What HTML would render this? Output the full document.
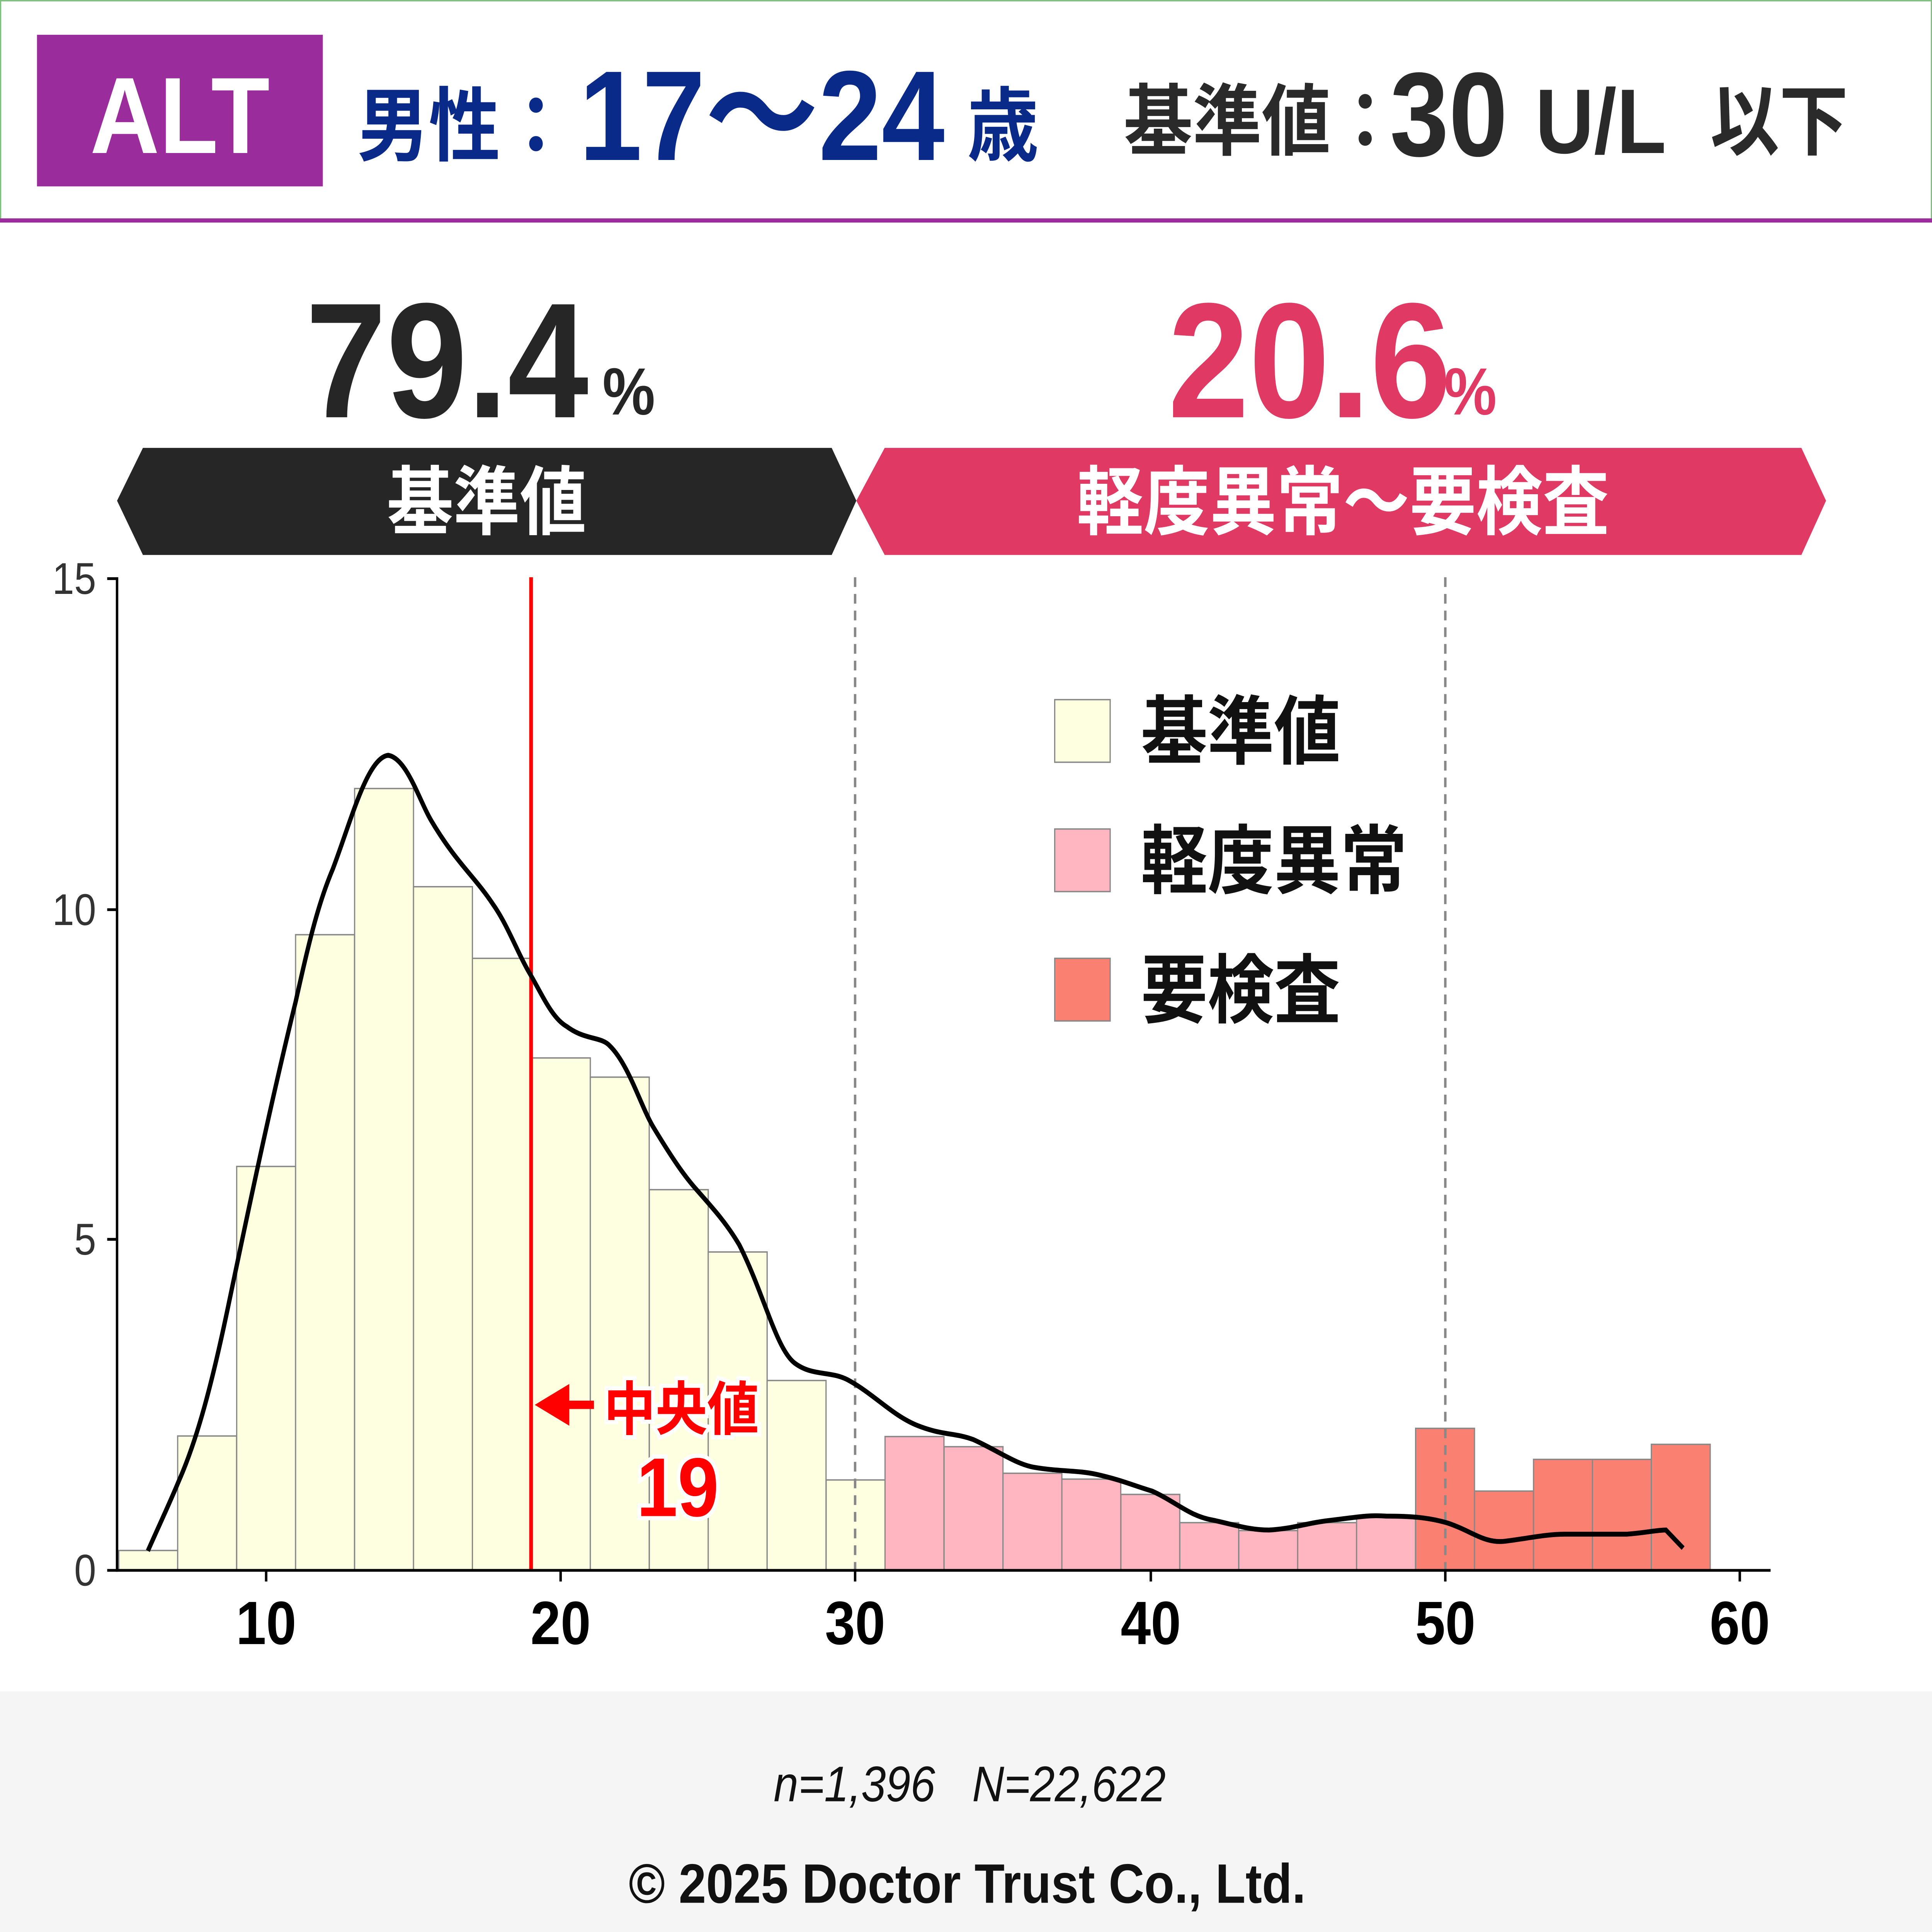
<!DOCTYPE html>
<html><head><meta charset="utf-8"><style>
html,body{margin:0;padding:0;background:#fff;width:100%;height:100%;overflow:hidden;}
svg{display:block;width:100vw;height:100vh;}
text{font-family:"Liberation Sans","Noto Sans CJK JP",sans-serif;}
</style></head><body>
<svg viewBox="0 0 1568 1389" preserveAspectRatio="none" xmlns="http://www.w3.org/2000/svg">
<rect x="0" y="0" width="1568" height="1389" fill="#fff"/>
<rect x="0.5" y="0.5" width="1567" height="159" fill="#fff" stroke="#7fbf7f" stroke-width="1"/>
<rect x="0" y="157" width="1568" height="3" fill="#9b2c9b"/>
<rect x="30" y="25" width="232" height="109" fill="#9b2c9b"/>
<text x="146" y="110" font-size="78" font-weight="bold" fill="#fff" text-anchor="middle">ALT</text>
<text x="290" y="111" font-size="58" font-weight="bold" fill="#0a2a8a">男性：</text>
<text x="470" y="115" font-size="92" font-weight="bold" fill="#0a2a8a">17～24</text>
<text x="785" y="111" font-size="58" font-weight="bold" fill="#0a2a8a">歳</text>
<text x="912" y="107" font-size="56" font-weight="bold" fill="#2a2a2a">基準値：</text>
<text x="1128" y="112" font-size="86" font-weight="bold" fill="#2a2a2a">30</text>
<text x="1246" y="110" font-size="66" font-weight="bold" fill="#2a2a2a">U/L</text>
<text x="1388" y="107" font-size="56" font-weight="bold" fill="#2a2a2a">以下</text>
<text x="248" y="300" font-size="118" font-weight="bold" fill="#262626">79.4</text>
<text x="489" y="298" font-size="48" font-weight="bold" fill="#262626">%</text>
<text x="948" y="300" font-size="118" font-weight="bold" fill="#e03a64">20.6</text>
<text x="1172" y="298" font-size="48" font-weight="bold" fill="#e03a64">%</text>
<polygon points="95,360 116,322 675,322 695,360 675,399 116,399" fill="#262626"/>
<text x="395" y="380" font-size="54" font-weight="bold" fill="#fff" text-anchor="middle">基準値</text>
<polygon points="695,360 718,322 1462,322 1482,360 1462,399 718,399" fill="#e03a64"/>
<text x="1090" y="380" font-size="54" font-weight="bold" fill="#fff" text-anchor="middle">軽度異常～要検査</text>
<g stroke="#888" stroke-width="1">
<g fill="#fefee0">
<rect x="96.4" y="1114.7" width="47.8" height="14.3"/>
<rect x="144.2" y="1032.4" width="47.8" height="96.6"/>
<rect x="192.1" y="838.6" width="47.8" height="290.4"/>
<rect x="239.9" y="672" width="47.8" height="457"/>
<rect x="287.8" y="566.9" width="47.8" height="562.1"/>
<rect x="335.6" y="637.5" width="47.8" height="491.5"/>
<rect x="383.4" y="689" width="47.8" height="440"/>
<rect x="431.3" y="760.6" width="47.8" height="368.4"/>
<rect x="479.1" y="774.4" width="47.8" height="354.6"/>
<rect x="527" y="855.3" width="47.8" height="273.7"/>
<rect x="574.8" y="900.1" width="47.8" height="228.9"/>
<rect x="622.6" y="992.5" width="47.8" height="136.5"/>
<rect x="670.5" y="1064" width="47.8" height="65"/>
</g>
<g fill="#ffb6c1">
<rect x="718.3" y="1032.8" width="47.8" height="96.2"/>
<rect x="766.2" y="1040.1" width="47.8" height="88.9"/>
<rect x="814" y="1059.2" width="47.8" height="69.8"/>
<rect x="861.8" y="1063.4" width="47.8" height="65.6"/>
<rect x="909.7" y="1074.4" width="47.8" height="54.6"/>
<rect x="957.5" y="1094.7" width="47.8" height="34.3"/>
<rect x="1005.4" y="1100.4" width="47.8" height="28.6"/>
<rect x="1053.2" y="1094.7" width="47.8" height="34.3"/>
<rect x="1101" y="1090.9" width="47.8" height="38.1"/>
</g>
<g fill="#fa8072">
<rect x="1148.9" y="1026.9" width="47.8" height="102.1"/>
<rect x="1196.7" y="1072" width="47.8" height="57"/>
<rect x="1244.6" y="1049.2" width="47.8" height="79.8"/>
<rect x="1292.4" y="1049.2" width="47.8" height="79.8"/>
<rect x="1340.2" y="1038.4" width="47.8" height="90.6"/>
</g>
</g>
<line x1="694" y1="415" x2="694" y2="1129" stroke="#888" stroke-width="2" stroke-dasharray="7,5"/>
<line x1="1173" y1="415" x2="1173" y2="1129" stroke="#888" stroke-width="2" stroke-dasharray="7,5"/>
<line x1="431" y1="415" x2="431" y2="1129" stroke="#ff0000" stroke-width="3"/>
<path d="M120,1115 C130,1095 138,1080 145,1065 C160,1035 172,995 185,940 C205,855 222,785 240,720 C250,680 258,650 270,625 C285,590 298,545 315,543 C330,545 340,575 350,590 C370,620 385,630 400,650 C412,665 420,685 430,700 C440,715 448,732 460,738 C475,748 488,745 495,752 C510,765 520,795 530,810 C545,832 555,845 565,855 C580,870 590,880 600,895 C620,930 630,970 645,980 C660,990 675,985 690,993 C710,1003 725,1018 745,1025 C765,1032 775,1030 790,1035 C810,1043 825,1053 840,1055 C860,1058 875,1057 890,1060 C910,1064 920,1068 935,1072 C955,1080 965,1090 985,1093 C1005,1097 1015,1100 1030,1100 C1050,1099 1060,1095 1080,1093 C1100,1091 1110,1089 1125,1090 C1145,1090 1160,1091 1175,1095 C1195,1101 1205,1110 1222,1108 C1240,1106 1255,1103 1270,1103 C1290,1103 1305,1103 1320,1103 C1335,1102 1345,1100 1352,1100 L1366,1113" fill="none" stroke="#000" stroke-width="3.5"/>
<line x1="95" y1="415" x2="95" y2="1130" stroke="#000" stroke-width="2"/>
<line x1="94" y1="1129" x2="1437" y2="1129" stroke="#000" stroke-width="2"/>
<g stroke="#000" stroke-width="2">
<line x1="87" y1="416" x2="95" y2="416"/><line x1="87" y1="654" x2="95" y2="654"/><line x1="87" y1="891" x2="95" y2="891"/><line x1="87" y1="1129" x2="95" y2="1129"/>
<line x1="216" y1="1129" x2="216" y2="1137"/><line x1="455" y1="1129" x2="455" y2="1137"/><line x1="694" y1="1129" x2="694" y2="1137"/><line x1="934" y1="1129" x2="934" y2="1137"/><line x1="1173" y1="1129" x2="1173" y2="1137"/><line x1="1412" y1="1129" x2="1412" y2="1137"/>
</g>
<g font-size="32" fill="#333" text-anchor="end">
<text x="78" y="427">15</text><text x="78" y="665">10</text><text x="78" y="902">5</text><text x="78" y="1140">0</text>
</g>
<g font-size="44" font-weight="bold" fill="#000" text-anchor="middle">
<text x="216" y="1182">10</text><text x="455" y="1182">20</text><text x="694" y="1182">30</text><text x="934" y="1182">40</text><text x="1173" y="1182">50</text><text x="1412" y="1182">60</text>
</g>
<rect x="856" y="503" width="45" height="45" fill="#fefee0" stroke="#888"/>
<rect x="856" y="596" width="45" height="45" fill="#ffb6c1" stroke="#888"/>
<rect x="856" y="689" width="45" height="45" fill="#fa8072" stroke="#888"/>
<g font-size="54" font-weight="bold" fill="#111">
<text x="926" y="545">基準値</text><text x="926" y="638">軽度異常</text><text x="926" y="731">要検査</text>
</g>
<line x1="450" y1="1010" x2="482" y2="1010" stroke="#ff0000" stroke-width="6"/>
<polygon points="434,1010 462,995 462,1025" fill="#ff0000"/>
<text x="490" y="1028" font-size="42" font-weight="bold" fill="#ff0000" stroke="#fff" stroke-width="6" paint-order="stroke">中央値</text>
<text x="550" y="1090" font-size="60" font-weight="bold" fill="#ff0000" text-anchor="middle" stroke="#fff" stroke-width="6" paint-order="stroke">19</text>
<rect x="0" y="1216" width="1568" height="173" fill="#f5f5f5"/>
<text x="787" y="1295" font-size="36" font-style="italic" fill="#111" text-anchor="middle" xml:space="preserve">n=1,396   N=22,622</text>
<text x="785" y="1368" font-size="40" font-weight="bold" fill="#111" text-anchor="middle">© 2025 Doctor Trust Co., Ltd.</text>
</svg>
</body></html>
